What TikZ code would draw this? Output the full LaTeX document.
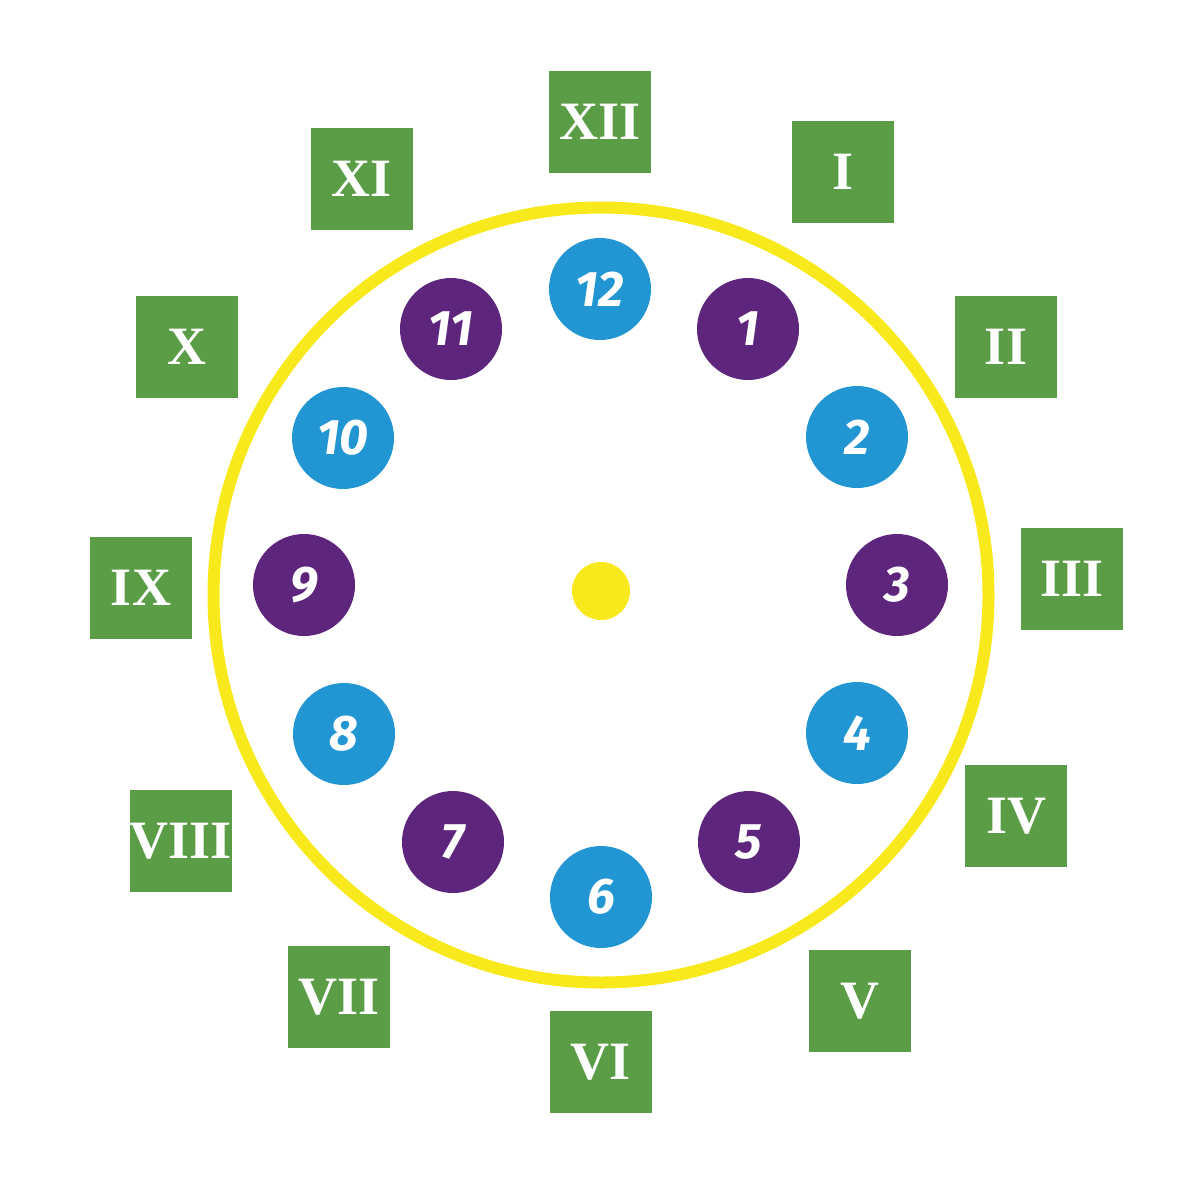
\documentclass[tikz,border=0pt]{standalone}
\usepackage{fontspec}
\setmainfont{Liberation Serif}
\newfontfamily\numfont{Fira Sans}
\definecolor{cblue}{HTML}{2196D3}
\definecolor{cpurp}{HTML}{5E257D}
\definecolor{cgreen}{HTML}{5B9D46}
\definecolor{cyell}{HTML}{F7E91B}
\tikzset{
 num/.style={circle,fill=#1,minimum size=102pt,inner sep=0pt,text=white,font=\numfont\bfseries\itshape\fontsize{50}{50}\selectfont},
 rom/.style={rectangle,fill=cgreen,minimum size=102pt,inner sep=0pt,text=white,font=\bfseries\fontsize{54}{54}\selectfont}
}
\begin{document}
\begin{tikzpicture}[x=1pt,y=-1pt]
\useasboundingbox (0,0) rectangle (1200,1200);
\node[circle,draw=cyell,line width=12pt,minimum size=775pt,inner sep=0pt] (ring) at (601,595) {};
\node[circle,fill=cyell,minimum size=58pt,inner sep=0pt] (hub) at (601,591) {};
\node[num=cblue] (n12) at (600,289) {12};
\node[num=cpurp] (n1) at (748,329) {1};
\node[num=cblue] (n2) at (857,437) {2};
\node[num=cpurp] (n3) at (897,585) {3};
\node[num=cblue] (n4) at (857,733) {4};
\node[num=cpurp] (n5) at (749,842) {5};
\node[num=cblue] (n6) at (601,897) {6};
\node[num=cpurp] (n7) at (453,842) {7};
\node[num=cblue] (n8) at (344,734) {8};
\node[num=cpurp] (n9) at (304,585) {9};
\node[num=cblue] (n10) at (343,438) {10};
\node[num=cpurp] (n11) at (451,329) {11};
\node[rom] (r12) at (600,122) {XII};
\node[rom] (r1) at (843,172) {I};
\node[rom] (r2) at (1006,347) {II};
\node[rom] (r3) at (1072,579) {III};
\node[rom] (r4) at (1016,816) {IV};
\node[rom] (r5) at (860,1001) {V};
\node[rom] (r6) at (601,1062) {VI};
\node[rom] (r7) at (339,997) {VII};
\node[rom] (r8) at (181,841) {VIII};
\node[rom] (r9) at (141,588) {IX};
\node[rom] (r10) at (187,347) {X};
\node[rom] (r11) at (362,179) {XI};
\end{tikzpicture}
\end{document}
